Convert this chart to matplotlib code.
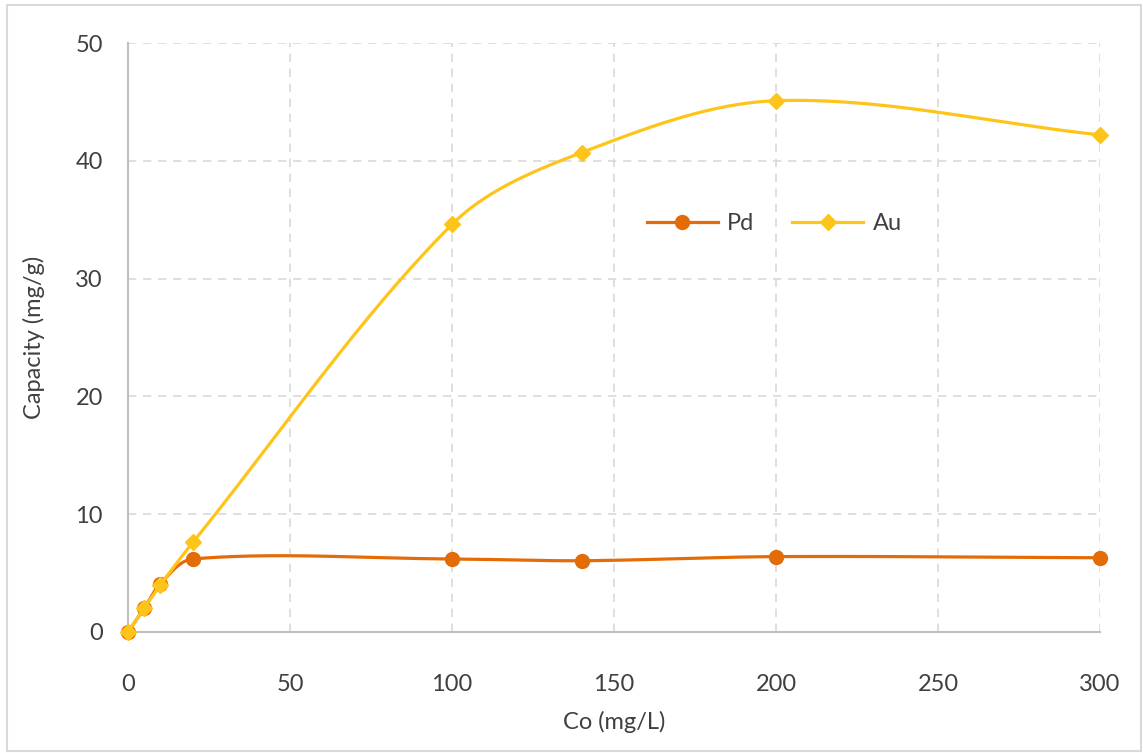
import numpy as np
import matplotlib
matplotlib.use("Agg")
import matplotlib.pyplot as plt
from matplotlib.patches import Rectangle

co = [0, 5, 10, 20, 100, 140, 200, 300]
pd_cap = [0, 2.0, 4.1, 6.2, 6.2, 6.05, 6.4, 6.3]
au_cap = [0, 2.0, 4.0, 7.6, 34.6, 40.7, 45.1, 42.2]
x_ticks = [0, 50, 100, 150, 200, 250, 300]
y_ticks = [0, 10, 20, 30, 40, 50]

plt.rcParams['font.family'] = ['Lato', 'DejaVu Sans']
TXT = '#404040'
PD_C = '#E36C09'
AU_C = '#FFC419'
FS = 17

SX = 972 / 300.0
SY = 589 / 50.0


def smooth(x, y, n=60):
    P = np.column_stack([np.asarray(x, float) * SX, np.asarray(y, float) * SY])
    m = len(P)
    out = []
    for i in range(m - 1):
        p0 = P[i - 1] if i > 0 else P[i]
        p1 = P[i]
        p2 = P[i + 1]
        p3 = P[i + 2] if i + 2 < m else P[i + 1]
        d01 = np.linalg.norm(p1 - p0)
        d12 = np.linalg.norm(p2 - p1)
        d23 = np.linalg.norm(p3 - p2)
        t1 = (p2 - p0) * (d12 / (d01 + d12)) if d01 + d12 > 0 else np.zeros(2)
        t2 = (p3 - p1) * (d12 / (d12 + d23)) if d12 + d23 > 0 else np.zeros(2)
        c1 = p1 + t1 / 3.0
        c2 = p2 - t2 / 3.0
        t = np.linspace(0, 1, n)[:, None]
        seg = ((1 - t) ** 3) * p1 + 3 * ((1 - t) ** 2) * t * c1 + 3 * (1 - t) * t ** 2 * c2 + t ** 3 * p2
        out.append(seg if i == 0 else seg[1:])
    out = np.vstack(out)
    return out[:, 0] / SX, out[:, 1] / SY


fig = plt.figure(figsize=(11.43, 7.53), dpi=100)
ax = fig.add_axes([128 / 1143, 121 / 753, 972 / 1143, 589 / 753])

fig.patches.append(Rectangle((7 / 1143, 2 / 753), 1134 / 1143, 746 / 753, transform=fig.transFigure,
                             fill=False, edgecolor='#D9D9D9', linewidth=1.5))

sx, sy = smooth(co, pd_cap)
ax.plot(sx, sy, color=PD_C, lw=2.3, zorder=3, clip_on=False)
ax.plot(co, pd_cap, ls='none', marker='o', ms=10, color=PD_C, zorder=4, clip_on=False)
sx, sy = smooth(co, au_cap)
ax.plot(sx, sy, color=AU_C, lw=2.3, zorder=5, clip_on=False)
ax.plot(co, au_cap, ls='none', marker='D', ms=8.5, color=AU_C, zorder=6, clip_on=False)

# legend proxies
ax.plot([], [], color=PD_C, lw=2.3, marker='o', ms=10, label='Pd')
ax.plot([], [], color=AU_C, lw=2.3, marker='D', ms=8.5, label='Au')
leg = ax.legend(loc='center', bbox_to_anchor=(0.665, 0.693), ncol=2, frameon=False,
                fontsize=FS, handlelength=3.0, columnspacing=1.6, handletextpad=0.4)
for t in leg.get_texts():
    t.set_color(TXT)

ax.set_xlim(0, 300)
ax.set_ylim(0, 50)
ax.set_xticks(x_ticks)
ax.set_yticks(y_ticks)
ax.grid(True, color='#D9D9D9', ls=(0, (5, 4)), lw=1.2)
ax.set_axisbelow(True)
for s in ['top', 'right']:
    ax.spines[s].set_visible(False)
for s in ['left', 'bottom']:
    ax.spines[s].set_color('#BFBFBF')
    ax.spines[s].set_linewidth(1.5)
ax.tick_params(axis='y', length=0, labelsize=FS, labelcolor=TXT, pad=18)
ax.tick_params(axis='x', length=0, labelsize=FS, labelcolor=TXT, pad=30)
ax.set_xlabel('Co (mg/L)', fontsize=FS, color=TXT, labelpad=12)
ax.set_ylabel('Capacity (mg/g)', fontsize=FS, color=TXT, labelpad=22)

fig.savefig('out.png', dpi=100)
